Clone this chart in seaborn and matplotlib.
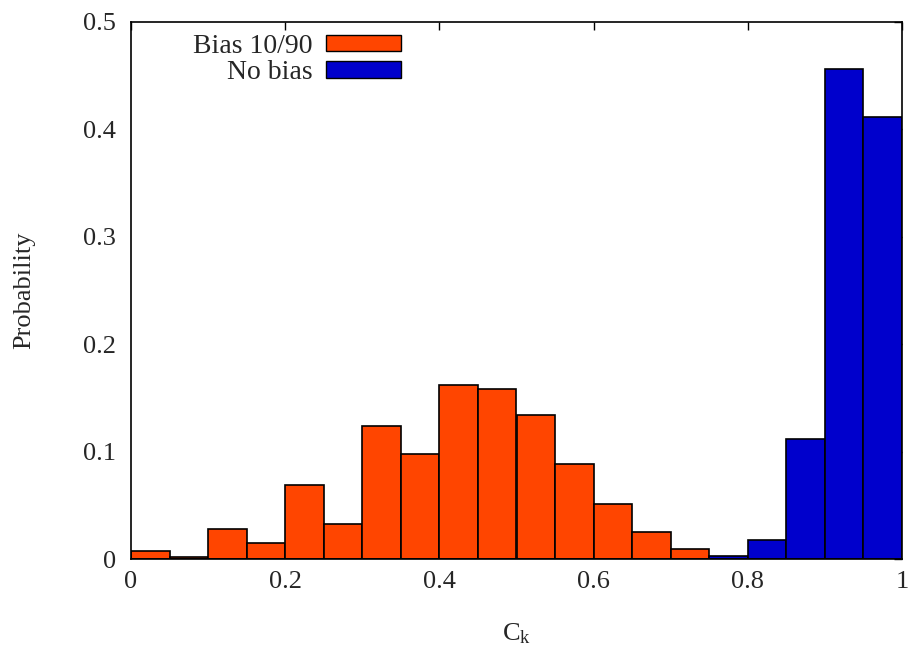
import numpy as np
import pandas as pd
import matplotlib
matplotlib.use("Agg")
import matplotlib.pyplot as plt
from matplotlib.patches import Patch
from matplotlib.ticker import FuncFormatter, MultipleLocator
import seaborn as sns

# Histogram of C_k, 20 bins of width 0.05 on [0, 1]
bin_edges = [round(i * 0.05, 2) for i in range(21)]
bias_10_90 = [0.007, 0.002, 0.028, 0.015, 0.069, 0.033, 0.124, 0.098, 0.162, 0.158,
              0.134, 0.088, 0.051, 0.025, 0.009, 0.0, 0.0, 0.0, 0.0, 0.0]
no_bias = [0.0, 0.0, 0.0, 0.0, 0.0, 0.0, 0.0, 0.0, 0.0, 0.0,
           0.0, 0.0, 0.0, 0.0, 0.0, 0.003, 0.018, 0.112, 0.456, 0.412]
series_labels = ["Bias 10/90", "No bias"]
series_colors = ["#ff4500", "#0000cc"]

centers = [(a + b) / 2 for a, b in zip(bin_edges[:-1], bin_edges[1:])]
df = pd.DataFrame({
    "ck": centers * 2,
    "prob": bias_10_90 + no_bias,
    "series": [series_labels[0]] * len(centers) + [series_labels[1]] * len(centers),
})

sns.set_style("white")
plt.rcParams["font.family"] = ["Liberation Serif", "DejaVu Serif"]
plt.rcParams["mathtext.fontset"] = "custom"
plt.rcParams["mathtext.rm"] = "Liberation Serif"
plt.rcParams["mathtext.it"] = "Liberation Serif:italic"

fig = plt.figure(figsize=(9.12, 6.52), dpi=100)
ax = fig.add_axes([131 / 912, 1 - 559 / 652, 771 / 912, 537 / 652])

for lab, col in zip(series_labels, series_colors):
    sub = df[(df["series"] == lab) & (df["prob"] > 0)]
    sns.histplot(data=sub, x="ck", weights="prob", bins=bin_edges, ax=ax,
                 color=col, alpha=1.0, edgecolor="black", linewidth=1.2,
                 stat="count", element="bars")

ax.set_xlim(0, 1)
ax.set_ylim(0, 0.5)
ax.xaxis.set_major_locator(MultipleLocator(0.2))
ax.yaxis.set_major_locator(MultipleLocator(0.1))
fmt = FuncFormatter(lambda v, p: f"{v:.1f}".rstrip("0").rstrip(".") if abs(v) > 1e-9 else "0")
ax.xaxis.set_major_formatter(fmt)
ax.yaxis.set_major_formatter(fmt)
ax.tick_params(axis="both", which="major", direction="in", length=6, width=1,
               top=True, right=True, labelsize=19, color="black")
ax.tick_params(axis="x", pad=9)
ax.tick_params(axis="y", pad=11)
for s in ax.spines.values():
    s.set_visible(True)
    s.set_color("black")
    s.set_linewidth(1.2)

ax.set_xlabel(r"$\mathrm{C_k}$", fontsize=19, labelpad=20)
ax.set_ylabel("Probability", fontsize=19, labelpad=34)

handles = [Patch(facecolor=c, edgecolor="black", linewidth=1.0) for c in series_colors]
ax.legend(handles, series_labels, loc="upper left", bbox_to_anchor=(0.08, 0.978),
          frameon=False, markerfirst=False, fontsize=20, borderpad=0, borderaxespad=0,
          handlelength=2.7, handleheight=0.55, handletextpad=0.5, labelspacing=0.06)

fig.savefig("out.png", dpi=100)
